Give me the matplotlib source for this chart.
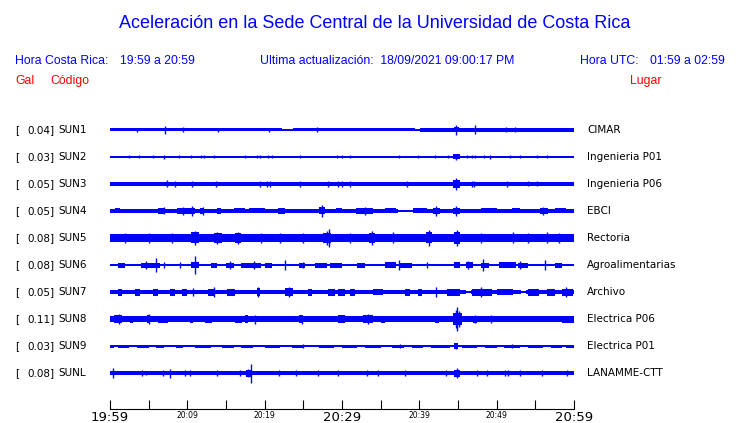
import matplotlib.pyplot as plt
from matplotlib.transforms import blended_transform_factory

# Stations (top to bottom)
codes = ["SUN1", "SUN2", "SUN3", "SUN4", "SUN5", "SUN6", "SUN7", "SUN8", "SUN9", "SUNL"]
gals = ["0.04", "0.03", "0.05", "0.05", "0.08", "0.08", "0.05", "0.11", "0.03", "0.08"]
places = ["CIMAR", "Ingenieria P01", "Ingenieria P06", "EBCI", "Rectoria",
          "Agroalimentarias", "Archivo", "Electrica P06", "Electrica P01", "LANAMME-CTT"]

# Time axis (minutes after 19:59)
tick_minutes = [0, 10, 20, 30, 40, 50, 60]
tick_labels = ["19:59", "20:09", "20:19", "20:29", "20:39", "20:49", "20:59"]
minor_minutes = [5, 15, 25, 35, 45, 55]

# Trace envelopes (half amplitude, trace spacing = 27)
# background: (start min, end min, half amplitude)
sun1_bg = [(0, 22.3, 1.5), (22.3, 23.6, 0.6), (23.6, 39.5, 1.5), (39.5, 40.1, 0.6), (40.1, 60, 1.8)]
sun1_bursts = [(44.5, 45.1, 2.5)]
sun1_spikes = [(7.1, 4.2), (9.4, 2.5), (26.8, 2.5), (44.8, 4.7), (47.2, 4.5), (51.2, 2.5),
               (52.4, 2.5), (3.5, 2.0), (14.0, 2.0), (20.5, 2.0)]

sun2_bg = [(0, 60, 0.6)]
sun2_bursts = [(44.4, 45.3, 2.5), (6.9, 7.4, 1.2)]
sun2_spikes = [(2.5, 1.5), (3.7, 1.5), (5.6, 1.5), (7.0, 1.8), (8.9, 1.5), (10.5, 1.5),
               (11.8, 1.5), (12.2, 1.5), (13.5, 1.5), (17.5, 1.5), (19.0, 1.5), (19.4, 1.5),
               (20.4, 1.5), (20.9, 1.5), (24.6, 1.5), (29.4, 1.5), (30.0, 1.5), (31.0, 1.5),
               (37.4, 1.5), (39.8, 1.5), (42.0, 1.5), (43.7, 1.5), (44.8, 3.2), (46.2, 1.5),
               (46.8, 1.5), (47.2, 1.5), (48.4, 1.5), (49.2, 1.8), (51.7, 1.5), (53.0, 1.5),
               (55.2, 1.5), (56.5, 1.5)]

sun3_bg = [(0, 60, 1.9)]
sun3_bursts = [(44.4, 45.2, 4.0)]
sun3_spikes = [(7.4, 3.5), (8.4, 3.0), (10.6, 3.0), (13.7, 3.0), (19.4, 3.0), (20.3, 3.0),
               (20.7, 3.0), (24.6, 3.0), (28.2, 2.8), (29.5, 2.8), (30.0, 2.8), (31.0, 3.0),
               (38.4, 3.0), (44.8, 6.3), (46.8, 3.0), (47.1, 3.0), (51.3, 3.0), (54.0, 2.5),
               (55.2, 2.5)]

sun4_bg = [(0, 37.3, 1.7), (37.3, 39.2, 1.3), (39.2, 60, 2.1)]
sun4_bursts = [(0.6, 1.3, 2.5), (6.2, 7.1, 3.0), (8.7, 11.0, 3.0), (11.7, 12.2, 3.0),
               (13.8, 14.3, 3.0), (16.0, 17.5, 2.5), (18.0, 20.0, 2.5), (21.7, 22.6, 3.0),
               (27.0, 27.8, 3.5), (29.2, 30.0, 2.5), (31.8, 34.0, 3.0), (35.5, 37.0, 2.5),
               (39.2, 41.0, 2.5), (41.8, 42.7, 3.0), (44.3, 45.3, 3.2), (48.0, 50.0, 2.5),
               (52.0, 53.0, 2.5), (55.6, 56.6, 3.0), (57.5, 59.0, 2.5)]
sun4_spikes = [(10.6, 5.0), (9.5, 4.0), (27.4, 6.0), (42.2, 5.0), (44.8, 5.0), (56.0, 4.0),
               (7.0, 3.5), (12.0, 4.0), (33.0, 4.0)]

sun5_bg = [(0, 60, 3.7)]
sun5_bursts = [(10.5, 11.5, 5.5), (13.5, 14.5, 5.0), (16.2, 17.0, 5.0), (27.6, 28.6, 5.0),
               (33.5, 34.3, 5.0), (40.8, 41.6, 5.5), (44.5, 45.3, 6.0)]
sun5_spikes = [(11.0, 7.0), (13.9, 6.0), (16.6, 6.0), (28.1, 7.0), (28.3, 9.0), (33.9, 7.0),
               (41.2, 8.0), (44.9, 8.0), (36.6, 5.5), (52.1, 5.5), (56.5, 5.5), (2.0, 5.0),
               (5.0, 5.0), (8.0, 5.0), (19.5, 5.0), (22.0, 5.0), (25.0, 5.0), (31.0, 5.0),
               (48.0, 5.0), (54.0, 5.0), (58.0, 5.0)]

sun6_bg = [(0, 60, 1.4)]
sun6_bursts = [(1.0, 2.0, 2.5), (4.0, 6.5, 2.5), (10.5, 11.5, 3.0), (13.0, 13.8, 2.5),
               (15.0, 16.0, 2.5), (17.0, 19.5, 2.5), (20.0, 21.0, 2.5), (24.5, 25.2, 2.5),
               (26.5, 28.0, 2.5), (28.5, 30.0, 2.5), (32.0, 33.0, 2.5), (35.5, 37.0, 3.0),
               (37.5, 39.0, 2.5), (44.5, 45.3, 3.0), (46.0, 47.0, 3.0), (48.0, 49.0, 2.5),
               (50.3, 52.5, 3.0), (52.8, 54.0, 2.5), (57.5, 58.5, 2.5)]
sun6_spikes = [(4.7, 3.5), (5.9, 7.3), (11.0, 8.5), (15.5, 3.5), (18.6, 3.5), (22.6, 4.5),
               (37.4, 4.5), (46.3, 3.5), (48.2, 6.0), (53.0, 4.0), (56.3, 4.5), (7.0, 3.0),
               (9.0, 3.0), (25.0, 3.0), (41.0, 3.0)]

sun7_bg = [(0, 46.0, 2.1), (46.0, 46.7, 1.2), (46.7, 53.2, 2.1), (53.2, 53.8, 1.2), (53.8, 60, 2.1)]
sun7_bursts = [(1.0, 1.5, 3.5), (3.2, 3.9, 3.5), (5.6, 6.2, 3.5), (7.8, 8.4, 3.5), (9.3, 10.0, 3.5),
               (12.7, 13.6, 3.5), (15.1, 16.2, 3.5), (19.0, 19.4, 4.0), (22.6, 23.7, 4.0),
               (25.6, 26.1, 3.5), (28.2, 29.1, 3.5), (29.5, 30.4, 3.5), (31.0, 31.7, 3.5),
               (34.0, 35.3, 3.0), (38.2, 38.8, 3.5), (39.8, 40.4, 3.5), (43.6, 45.3, 3.5),
               (46.8, 49.4, 3.5), (50.0, 52.1, 3.0), (54.0, 55.5, 3.5), (56.5, 57.5, 3.5),
               (58.5, 59.9, 3.5)]
sun7_spikes = [(13.4, 5.0), (42.1, 5.5), (10.7, 4.0), (19.2, 4.5), (23.2, 4.5), (48.0, 4.5),
               (59.0, 4.5)]

sun8_bg = [(0, 60, 2.7)]
sun8_bursts = [(0.5, 1.6, 4.0), (2.6, 3.0, 3.5), (4.8, 5.2, 4.5), (6.2, 7.5, 3.5), (10.3, 10.7, 3.5),
               (12.3, 13.2, 3.5), (16.2, 17.1, 3.5), (17.5, 17.9, 4.0), (24.5, 25.0, 4.0),
               (29.5, 30.4, 4.0), (32.7, 34.0, 4.2), (35.0, 35.5, 3.5), (42.0, 42.5, 3.5),
               (44.3, 45.5, 6.0), (47.0, 47.4, 3.5), (58.5, 60.0, 3.5)]
sun8_spikes = [(1.2, 5.0), (5.0, 5.0), (18.8, 4.5), (24.8, 4.5), (33.4, 5.0), (44.9, 12.0),
               (44.7, 9.0), (45.1, 8.0), (47.2, 4.0), (49.3, 4.0)]

sun9_bg = [(0, 60, 0.6)]
sun9_bursts = [(0.0, 0.5, 1.5), (1.0, 2.5, 1.5), (3.5, 5.0, 1.5), (6.0, 7.0, 1.5), (8.5, 9.5, 1.5),
               (11.0, 13.0, 1.5), (14.5, 16.0, 1.5), (17.0, 18.5, 1.5), (20.0, 22.0, 1.5),
               (23.5, 25.0, 1.5), (27.0, 29.0, 1.5), (30.0, 32.0, 1.5), (33.0, 35.0, 1.5),
               (36.5, 38.0, 1.5), (39.0, 40.5, 1.5), (41.5, 44.0, 1.5), (44.5, 45.0, 2.8),
               (45.5, 47.5, 1.5), (48.5, 50.0, 1.5), (51.0, 53.0, 1.5), (54.0, 56.0, 1.5),
               (57.0, 58.5, 1.5), (59.0, 60.0, 1.5)]
sun9_spikes = [(44.8, 3.0), (37.5, 2.0), (24.9, 2.0), (52.0, 2.0)]

sunl_bg = [(0, 60, 1.6)]
sunl_bursts = [(17.6, 18.4, 3.5), (44.5, 45.3, 3.5)]
sunl_spikes = [(0.4, 5.3), (4.1, 3.0), (4.7, 2.0), (6.9, 3.0), (7.8, 4.5), (9.7, 2.5), (10.3, 2.5),
               (13.8, 2.5), (16.8, 2.5), (17.9, 4.0), (18.2, 9.5), (21.8, 2.5), (24.1, 2.5),
               (26.9, 2.5), (29.5, 2.5), (33.2, 2.5), (34.6, 2.5), (38.2, 2.5), (43.5, 2.5),
               (44.9, 5.3), (47.4, 2.5), (48.7, 2.5), (51.1, 2.5), (51.5, 2.5), (53.0, 2.5),
               (55.8, 2.5), (59.1, 2.5)]

backgrounds = [sun1_bg, sun2_bg, sun3_bg, sun4_bg, sun5_bg, sun6_bg, sun7_bg, sun8_bg, sun9_bg, sunl_bg]
bursts = [sun1_bursts, sun2_bursts, sun3_bursts, sun4_bursts, sun5_bursts, sun6_bursts,
          sun7_bursts, sun8_bursts, sun9_bursts, sunl_bursts]
spikes = [sun1_spikes, sun2_spikes, sun3_spikes, sun4_spikes, sun5_spikes, sun6_spikes,
          sun7_spikes, sun8_spikes, sun9_spikes, sunl_spikes]

SPACING = 27.0
BLUE = "#0000ff"
RED = "#ff0000"

fig = plt.figure(figsize=(7.4, 4.23), dpi=100)
ax = fig.add_axes([110 / 740, 1 - 409 / 423, 464 / 740, (409 - 118) / 423])

for i in range(len(codes)):
    for t0, t1, a in backgrounds[i] + bursts[i]:
        h = a / SPACING
        ax.broken_barh([(t0, t1 - t0)], (i - h, 2 * h), facecolors=BLUE, edgecolor="none")
    for t, a in spikes[i]:
        h = a / SPACING
        ax.vlines(t, i - h, i + h, colors=BLUE, linewidth=1.0)

ax.set_xlim(0, 60)
ax.set_ylim((409 - 130) / SPACING, (118 - 130) / SPACING)

for s in ["top", "left", "right"]:
    ax.spines[s].set_visible(False)
ax.spines["bottom"].set_linewidth(0.8)
ax.set_yticks([])
ax.set_xticks(tick_minutes)
ax.set_xticks(minor_minutes, minor=True)
ax.tick_params(axis="x", which="both", direction="in", length=6.5, width=0.8, pad=1.5)
ax.set_xticklabels(tick_labels)
for k, lab in enumerate(ax.get_xticklabels()):
    lab.set_fontsize(9.5 if k in (0, 3, 6) else 5.5)

# Station labels on both sides
tr = blended_transform_factory(fig.transFigure, ax.transData)
for i in range(len(codes)):
    ax.text(15 / 740, i, "[", transform=tr, fontsize=7.5, va="center", ha="left")
    ax.text(55 / 740, i, gals[i] + "]", transform=tr, fontsize=7.5, va="center", ha="right")
    ax.text(58 / 740, i, codes[i], transform=tr, fontsize=7.5, va="center", ha="left")
    ax.text(587 / 740, i, places[i], transform=tr, fontsize=7.5, va="center", ha="left")

# Header
hfont = "Liberation Sans"
hsize = 8.8
fig.text(0.507, 1 - 23 / 423, "Aceleración en la Sede Central de la Universidad de Costa Rica",
         ha="center", va="center", color=BLUE, fontsize=13, family=hfont)
fig.text(15 / 740, 1 - 61 / 423, "Hora Costa Rica:", color=BLUE, fontsize=hsize, family=hfont, va="center")
fig.text(120 / 740, 1 - 61 / 423, "19:59 a 20:59", color=BLUE, fontsize=hsize, family=hfont, va="center")
fig.text(260 / 740, 1 - 61 / 423, "Ultima actualización:  18/09/2021 09:00:17 PM", color=BLUE,
         fontsize=hsize, family=hfont, va="center")
fig.text(580 / 740, 1 - 61 / 423, "Hora UTC:", color=BLUE, fontsize=hsize, family=hfont, va="center")
fig.text(650 / 740, 1 - 61 / 423, "01:59 a 02:59", color=BLUE, fontsize=hsize, family=hfont, va="center")
fig.text(15 / 740, 1 - 81 / 423, "Gal", color=RED, fontsize=hsize, family=hfont, va="center")
fig.text(50 / 740, 1 - 81 / 423, "Código", color=RED, fontsize=hsize, family=hfont, va="center")
fig.text(630 / 740, 1 - 81 / 423, "Lugar", color=RED, fontsize=hsize, family=hfont, va="center")

plt.savefig("out.png", dpi=100)
plt.close()
